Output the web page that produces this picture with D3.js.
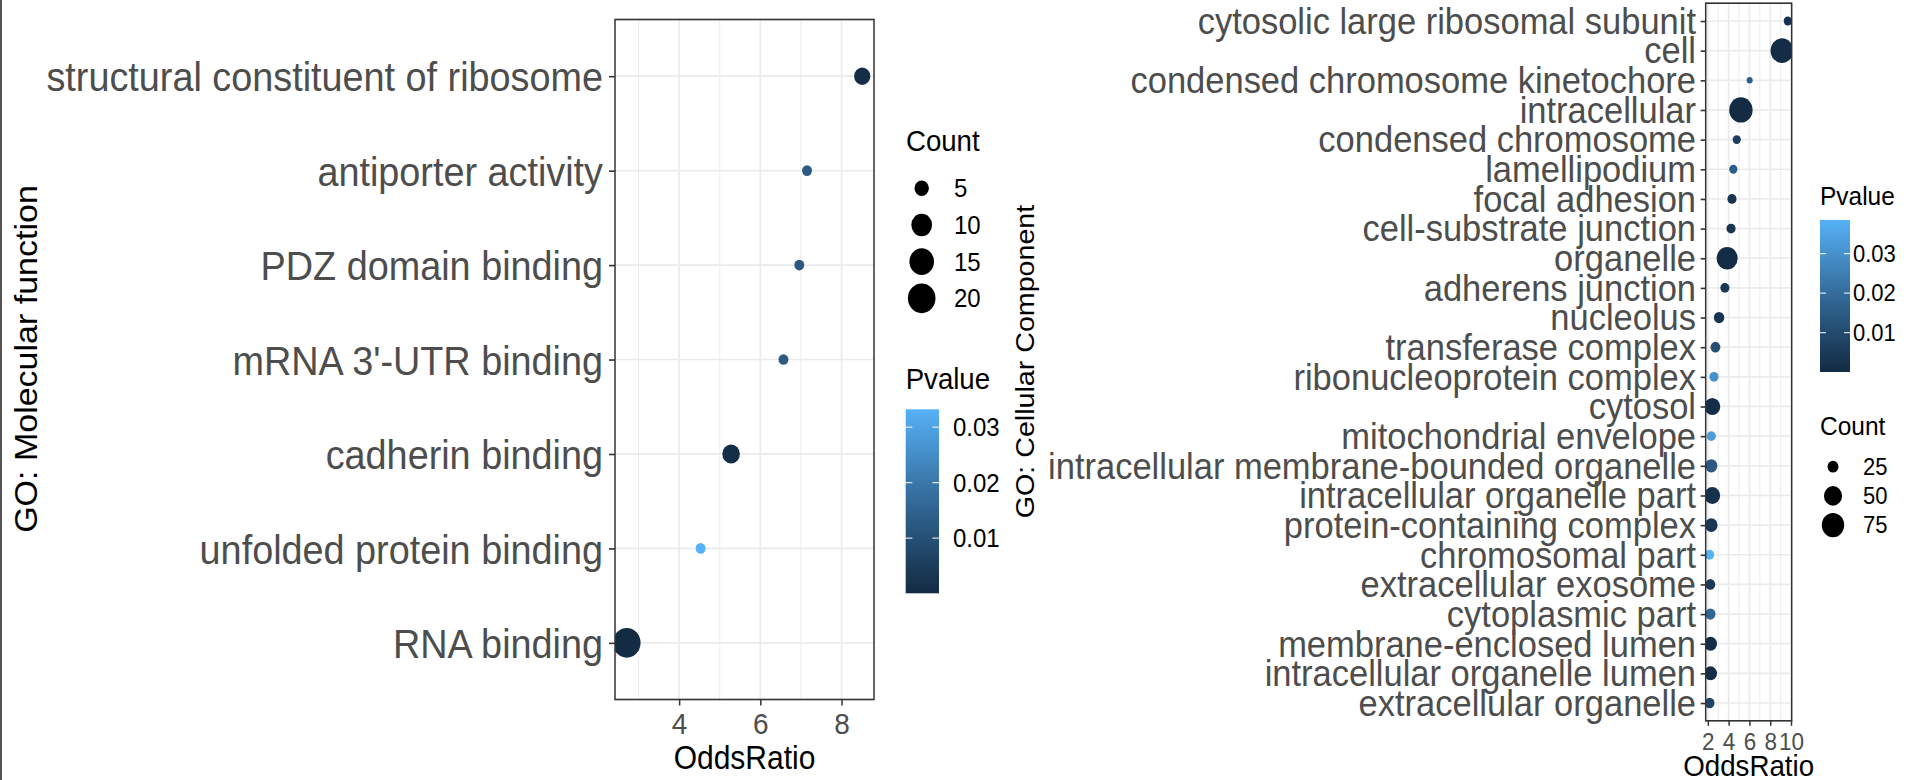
<!DOCTYPE html>
<html>
<head>
<meta charset="utf-8">
<script src="https://cdn.jsdelivr.net/npm/d3@7"></script>
<style>
  html, body { margin: 0; padding: 0; background: #fff; }
  svg { display: block; }
  text { font-family: "Liberation Sans", Arial, Helvetica, sans-serif; }
</style>
</head>
<body>
<script>
// GO: Molecular function
var mfTerms = ["structural constituent of ribosome", "antiporter activity", "PDZ domain binding",
    "mRNA 3'-UTR binding", "cadherin binding", "unfolded protein binding", "RNA binding"];
var mfOdds = [8.51, 7.15, 6.96, 6.57, 5.28, 4.53, 2.71];
var mfCount = [6, 4, 4, 4, 7, 4, 20];
var mfPvalue = [0.001, 0.013, 0.012, 0.013, 0.001, 0.0332, 0.00005];
var mfXTicks = [4, 6, 8];
var mfCountBreaks = [5, 10, 15, 20];
var mfPBreaks = [0.01, 0.02, 0.03];

// GO: Cellular Component
var ccTerms = ["cytosolic large ribosomal subunit", "cell", "condensed chromosome kinetochore",
    "intracellular", "condensed chromosome", "lamellipodium", "focal adhesion",
    "cell-substrate junction", "organelle", "adherens junction", "nucleolus",
    "transferase complex", "ribonucleoprotein complex", "cytosol", "mitochondrial envelope",
    "intracellular membrane-bounded organelle", "intracellular organelle part",
    "protein-containing complex", "chromosomal part", "extracellular exosome",
    "cytoplasmic part", "membrane-enclosed lumen", "intracellular organelle lumen",
    "extracellular organelle"];
var ccOdds = [9.69, 9.13, 6.02, 5.18, 4.78, 4.45, 4.32, 4.23, 3.86, 3.64, 3.08, 2.73,
    2.59, 2.43, 2.33, 2.33, 2.43, 2.33, 2.17, 2.24, 2.24, 2.26, 2.26, 2.17];
var ccCount = [21, 78, 20, 82, 21, 21, 22, 22, 66, 22, 24, 23, 22, 40, 22, 28, 39, 29,
    22, 23, 24, 30, 30, 23];
var ccPvalue = [0.002, 0.0004, 0.016, 0.00001, 0.006, 0.016, 0.003, 0.003, 0.0005, 0.004,
    0.003, 0.011, 0.03, 0.001, 0.033, 0.014, 0.002, 0.004, 0.0385, 0.005, 0.018, 0.001,
    0.001, 0.008];
var ccXTicks = [2, 4, 6, 8, 10];
var ccCountBreaks = [25, 50, 75];
var ccPBreaks = [0.01, 0.02, 0.03];

// the source picture is a little taller than it is wide, so y gets stretched
var SY = 1.08, W = 1915, H = 780;
function Y(v) { return v / SY; }

var lowCol = "#132B43", highCol = "#56B1F7";
var axisText = "#4d4d4d", gridCol = "#ebebeb", darkLine = "#333333";

var svg = d3.select("body").append("svg")
    .attr("width", W)
    .attr("height", H)
    .attr("viewBox", "0 0 " + W + " " + (H / SY))
    .attr("preserveAspectRatio", "none");

var defs = svg.append("defs");

// thin frame line at the left edge of the picture
svg.append("line")
    .attr("x1", 1).attr("x2", 1)
    .attr("y1", 0).attr("y2", H / SY)
    .attr("stroke", "#555").attr("stroke-width", 2);

function drawPanel(o) {
    var data = o.terms.map(function (t, i) {
        return { term: t, odds: o.odds[i], count: o.count[i], p: o.pvalue[i] };
    });

    var ext = d3.extent(o.odds), pad = (ext[1] - ext[0]) * 0.05;
    var x = d3.scaleLinear().domain([ext[0] - pad, ext[1] + pad]).range([o.x0, o.x1]);
    var y = d3.scalePoint().domain(o.terms).range([Y(o.y0), Y(o.y1)]).padding(0.6);

    var cnt = d3.scaleLinear().domain(d3.extent(o.count)).range([0, 1]).clamp(true);
    var r = function (c) { return o.rMin + (o.rMax - o.rMin) * Math.sqrt(cnt(c)); };

    var pExt = d3.extent(o.pvalue);
    var color = d3.scaleLinear().domain(pExt).range([lowCol, highCol]).interpolate(d3.interpolateLab);

    var g = svg.append("g");

    g.append("rect")
        .attr("x", o.x0).attr("y", Y(o.y0))
        .attr("width", o.x1 - o.x0).attr("height", Y(o.y1) - Y(o.y0))
        .attr("fill", "#fff");

    // minor grid half way between the major breaks
    var step = o.xTicks[1] - o.xTicks[0];
    var minor = d3.range(o.xTicks[0] - step / 2, o.xTicks[o.xTicks.length - 1] + step, step)
        .filter(function (v) { return v > x.domain()[0] && v < x.domain()[1]; });

    g.selectAll(".minor").data(minor).enter().append("line")
        .attr("x1", x).attr("x2", x)
        .attr("y1", Y(o.y0)).attr("y2", Y(o.y1))
        .attr("stroke", gridCol).attr("stroke-width", 0.9);

    g.selectAll(".vmajor").data(o.xTicks).enter().append("line")
        .attr("x1", x).attr("x2", x)
        .attr("y1", Y(o.y0)).attr("y2", Y(o.y1))
        .attr("stroke", gridCol).attr("stroke-width", 1.7);

    g.selectAll(".hmajor").data(o.terms).enter().append("line")
        .attr("x1", o.x0).attr("x2", o.x1)
        .attr("y1", y).attr("y2", y)
        .attr("stroke", gridCol).attr("stroke-width", 1.6);

    defs.append("clipPath").attr("id", "clip-" + o.id)
        .append("rect")
        .attr("x", o.x0).attr("y", Y(o.y0))
        .attr("width", o.x1 - o.x0).attr("height", Y(o.y1) - Y(o.y0));

    g.append("g")
        .attr("clip-path", "url(#clip-" + o.id + ")")
        .selectAll("circle").data(data).enter().append("circle")
        .attr("cx", function (d) { return x(d.odds); })
        .attr("cy", function (d) { return y(d.term); })
        .attr("r", function (d) { return r(d.count); })
        .attr("fill", function (d) { return color(d.p); });

    g.append("rect")
        .attr("x", o.x0).attr("y", Y(o.y0))
        .attr("width", o.x1 - o.x0).attr("height", Y(o.y1) - Y(o.y0))
        .attr("fill", "none").attr("stroke", darkLine).attr("stroke-width", 1.5);

    // y axis, term labels
    var ya = g.append("g")
        .attr("transform", "translate(" + o.x0 + ",0)")
        .call(d3.axisLeft(y).tickSize(o.tickLen).tickPadding(o.tickPad));
    ya.select(".domain").remove();
    ya.selectAll(".tick line").attr("stroke", darkLine).attr("stroke-width", 1.5);
    ya.selectAll(".tick text")
        .attr("dy", o.labelDy)
        .attr("fill", axisText)
        .style("font-size", o.labelSize + "px");

    // x axis
    var xa = g.append("g")
        .attr("transform", "translate(0," + Y(o.y1) + ")")
        .call(d3.axisBottom(x).tickValues(o.xTicks).tickFormat(d3.format("d")).tickSize(Y(o.xTickLen)));
    xa.select(".domain").remove();
    xa.selectAll(".tick line").attr("stroke", darkLine).attr("stroke-width", 1.5);
    xa.selectAll(".tick text")
        .attr("y", Y(o.xTickBase - o.y1))
        .attr("dy", 0)
        .attr("fill", axisText)
        .style("font-size", o.xTickSize + "px");

    g.append("text")
        .attr("x", (o.x0 + o.x1) / 2)
        .attr("y", Y(o.xTitleBase))
        .attr("text-anchor", "middle")
        .style("font-size", o.xTitleSize + "px")
        .text("OddsRatio");

    g.append("text")
        .attr("transform", "translate(" + o.yTitleX + "," + Y(o.yTitleY) + ") rotate(-90)")
        .attr("text-anchor", "middle")
        .style("font-size", o.yTitleSize + "px")
        .text(o.yTitle);

    // Count legend
    var cl = o.countLeg;
    g.append("text")
        .attr("x", cl.x).attr("y", Y(cl.titleBase))
        .style("font-size", cl.titleSize + "px")
        .text("Count");
    var items = g.selectAll(".citem").data(o.countBreaks).enter().append("g")
        .attr("transform", function (d, i) { return "translate(0," + Y(cl.y0 + i * cl.step) + ")"; });
    items.append("circle")
        .attr("cx", cl.dotX).attr("cy", 0)
        .attr("r", function (d) { return r(d); })
        .attr("fill", "#000");
    items.append("text")
        .attr("x", cl.labelX).attr("y", 0).attr("dy", "0.35em")
        .style("font-size", cl.labelSize + "px")
        .text(function (d) { return d; });

    // Pvalue colour bar
    var pl = o.pLeg;
    g.append("text")
        .attr("x", pl.x0).attr("y", Y(pl.titleBase))
        .style("font-size", pl.titleSize + "px")
        .text("Pvalue");

    var grad = defs.append("linearGradient").attr("id", "grad-" + o.id)
        .attr("x1", 0).attr("y1", 1).attr("x2", 0).attr("y2", 0);
    d3.range(0, 1.0001, 0.1).forEach(function (t) {
        grad.append("stop")
            .attr("offset", t)
            .attr("stop-color", color(pExt[0] + t * (pExt[1] - pExt[0])));
    });
    g.append("rect")
        .attr("x", pl.x0).attr("y", Y(pl.y0))
        .attr("width", pl.x1 - pl.x0).attr("height", Y(pl.y1) - Y(pl.y0))
        .attr("fill", "url(#grad-" + o.id + ")");

    var pb = d3.scaleLinear().domain(pExt).range([Y(pl.y1), Y(pl.y0)]);
    var tl = (pl.x1 - pl.x0) / 5;
    g.selectAll(".ptick").data(o.pBreaks).enter().append("path")
        .attr("d", function (d) {
            return "M" + pl.x0 + "," + pb(d) + "h" + tl + "M" + (pl.x1 - tl) + "," + pb(d) + "h" + tl;
        })
        .attr("stroke", "#fff").attr("stroke-width", 1.2).attr("opacity", 0.8);
    g.selectAll(".plabel").data(o.pBreaks).enter().append("text")
        .attr("x", pl.labelX).attr("y", pb).attr("dy", "0.35em")
        .style("font-size", pl.labelSize + "px")
        .text(function (d) { return d3.format(".2f")(d); });
}

drawPanel({
    id: "mf", terms: mfTerms, odds: mfOdds, count: mfCount, pvalue: mfPvalue,
    xTicks: mfXTicks, countBreaks: mfCountBreaks, pBreaks: mfPBreaks,
    x0: 615, x1: 874, y0: 19.5, y1: 699.5,
    rMin: 4.96, rMax: 13.8,
    labelSize: 37.8, labelDy: "0.36em", tickLen: 6, tickPad: 6,
    xTickSize: 28, xTickLen: 6, xTickBase: 734,
    xTitleBase: 769, xTitleSize: 30,
    yTitle: "GO: Molecular function", yTitleX: 37, yTitleY: 359, yTitleSize: 31.5,
    countLeg: { x: 906, titleBase: 150.7, titleSize: 27.6, y0: 188.3, step: 36.67,
        dotX: 921.7, labelX: 954, labelSize: 24 },
    pLeg: { x0: 905.7, x1: 939, y0: 409.3, y1: 593.3, titleBase: 389.3, titleSize: 27.6,
        labelX: 953, labelSize: 24 }
});

drawPanel({
    id: "cc", terms: ccTerms, odds: ccOdds, count: ccCount, pvalue: ccPvalue,
    xTicks: ccXTicks, countBreaks: ccCountBreaks, pBreaks: ccPBreaks,
    x0: 1705.7, x1: 1791.7, y0: 3.2, y1: 720.8,
    rMin: 3, rMax: 11.7,
    labelSize: 34.5, labelDy: "0.33em", tickLen: 5, tickPad: 4.7,
    xTickSize: 22.5, xTickLen: 5, xTickBase: 750,
    xTitleBase: 776, xTitleSize: 27.7,
    yTitle: "GO: Cellular Component", yTitleX: 1034, yTitleY: 361.5, yTitleSize: 26.5,
    countLeg: { x: 1820, titleBase: 435, titleSize: 24.5, y0: 466.7, step: 29.2,
        dotX: 1833, labelX: 1863, labelSize: 22 },
    pLeg: { x0: 1820, x1: 1850, y0: 220, y1: 372, titleBase: 205, titleSize: 24.5,
        labelX: 1853, labelSize: 22 }
});
</script>
</body>
</html>
